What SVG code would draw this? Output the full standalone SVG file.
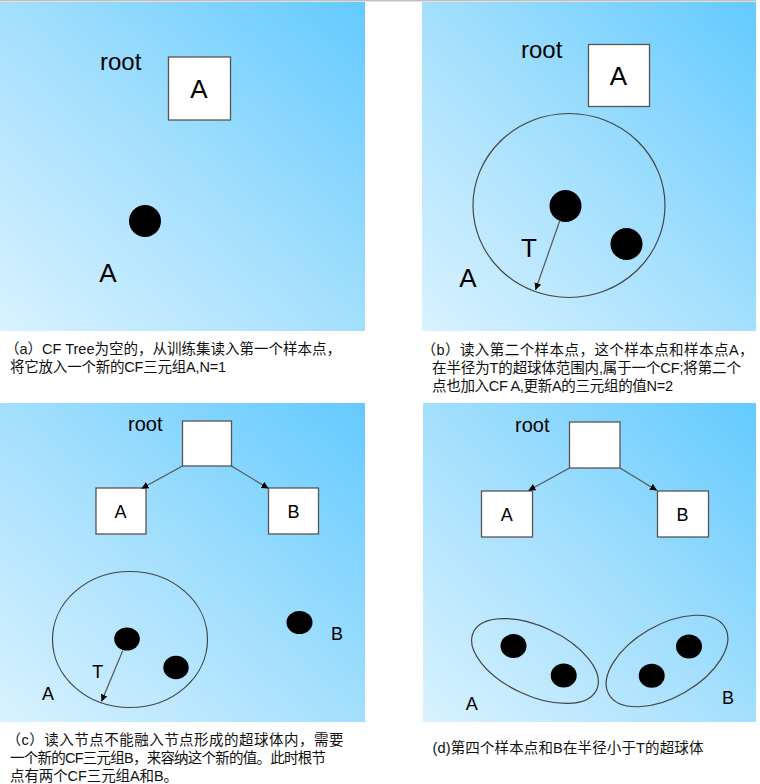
<svg xmlns="http://www.w3.org/2000/svg" width="760" height="784" viewBox="0 0 760 784">
<defs>
<linearGradient id="bg" x1="0" y1="1" x2="1" y2="0">
<stop offset="0" stop-color="#d9f2ff"/>
<stop offset="0.5" stop-color="#a3dffd"/>
<stop offset="1" stop-color="#63caff"/>
</linearGradient>
<marker id="arr" viewBox="0 0 10 10" refX="10" refY="5" markerWidth="7" markerHeight="7" markerUnits="userSpaceOnUse" orient="auto">
<path d="M0,0 L10,5 L0,10 Z" fill="#000"/>
</marker>
<style>
.panel{fill:url(#bg)}
.box{fill:#fff;stroke:#555;stroke-width:1.3}
.ring{fill:none;stroke:#444;stroke-width:1.2}
.dot{fill:#000}
.lb{font-family:"Liberation Sans",Arial,sans-serif;fill:#000}
.big{font-size:26px}
.rt1{font-size:24px}
.sm{font-size:18px}
.rt2{font-size:20px}
.cap{font-family:"Liberation Sans","Noto Sans CJK SC","Microsoft YaHei",sans-serif;font-size:14.5px;fill:#111}
.link{stroke:#555;stroke-width:1.2;fill:none;marker-end:url(#arr)}
</style>
</defs>
<rect x="0" y="0" width="760" height="784" fill="#fff"/>
<rect x="0" y="0" width="756" height="1.5" fill="#c0c0c0"/>

<!-- panel a -->
<g id="panel-a">
<rect class="panel" x="0" y="2" width="365" height="329"/>
<text class="lb rt1" x="100" y="70">root</text>
<g id="a-nodeA"><rect class="box" x="168.5" y="57" width="62" height="63"/><text class="lb big" x="199" y="98" text-anchor="middle">A</text></g>
<circle class="dot" cx="145" cy="221" r="16"/>
<text class="lb big" x="108" y="282" text-anchor="middle">A</text>
</g>

<!-- panel b -->
<g id="panel-b">
<rect class="panel" x="422" y="2" width="334" height="329"/>
<text class="lb rt1" x="521" y="58">root</text>
<g id="b-nodeA"><rect class="box" x="588.5" y="44.5" width="61" height="62"/><text class="lb big" x="618.5" y="85" text-anchor="middle">A</text></g>
<ellipse class="ring" cx="569" cy="205.5" rx="96" ry="92"/>
<circle class="dot" cx="565.5" cy="206" r="16"/>
<circle class="dot" cx="626.5" cy="244" r="16"/>
<text class="lb big" x="529" y="257" text-anchor="middle">T</text>
<text class="lb big" x="468" y="287" text-anchor="middle">A</text>
</g>

<!-- panel c -->
<g id="panel-c">
<rect class="panel" x="0" y="403" width="365" height="319"/>
<text class="lb rt2" x="128" y="431">root</text>
<g id="c-root"><rect class="box" x="182.5" y="421" width="49" height="45"/></g>
<g id="c-nodeA"><rect class="box" x="96" y="488" width="50" height="46"/><text class="lb sm" x="120.5" y="517.5" text-anchor="middle">A</text></g>
<g id="c-nodeB"><rect class="box" x="268.5" y="488" width="50" height="46"/><text class="lb sm" x="293.5" y="517.5" text-anchor="middle">B</text></g>
<ellipse class="ring" cx="130" cy="639.5" rx="77.5" ry="68"/>
<ellipse class="dot" cx="127" cy="639" rx="12.8" ry="11.5"/>
<ellipse class="dot" cx="176" cy="667.5" rx="12.7" ry="11.8"/>
<ellipse class="dot" cx="299.5" cy="622.5" rx="13" ry="11.5"/>
<text class="lb sm" x="337" y="640" text-anchor="middle">B</text>
<text class="lb sm" x="97.7" y="677.5" text-anchor="middle">T</text>
<text class="lb sm" x="48" y="700" text-anchor="middle">A</text>
</g>

<!-- panel d -->
<g id="panel-d">
<rect class="panel" x="423" y="403" width="333" height="319"/>
<text class="lb rt2" x="515" y="432">root</text>
<g id="d-root"><rect class="box" x="569.5" y="422" width="50.5" height="46"/></g>
<g id="d-nodeA"><rect class="box" x="481.5" y="491" width="51" height="46"/><text class="lb sm" x="506.7" y="520.7" text-anchor="middle">A</text></g>
<g id="d-nodeB"><rect class="box" x="657.5" y="491" width="51" height="46"/><text class="lb sm" x="682.5" y="520.7" text-anchor="middle">B</text></g>
<ellipse class="ring" cx="535" cy="661" rx="68" ry="34.5" transform="rotate(25 535 661)"/>
<ellipse class="ring" cx="667" cy="661" rx="67" ry="36" transform="rotate(-30 667 661)"/>
<ellipse class="dot" cx="513.5" cy="646" rx="13" ry="12"/>
<ellipse class="dot" cx="563.7" cy="675.5" rx="13" ry="12"/>
<ellipse class="dot" cx="689" cy="646.5" rx="13" ry="12"/>
<ellipse class="dot" cx="651.7" cy="675.7" rx="13" ry="12"/>
<text class="lb sm" x="471.7" y="709.5" text-anchor="middle">A</text>
<text class="lb sm" x="728" y="703.5" text-anchor="middle">B</text>
</g>

<!-- connectors -->
<g id="connectors">
<line class="link" x1="560" y1="220" x2="535.5" y2="290"/>
<line class="link" x1="182.5" y1="466" x2="141.5" y2="488.5"/>
<line class="link" x1="231.5" y1="466" x2="268.5" y2="488.5"/>
<line class="link" x1="122.7" y1="650.7" x2="101.5" y2="701.5"/>
<line class="link" x1="569.5" y1="468" x2="528.5" y2="490.5"/>
<line class="link" x1="620" y1="468" x2="657" y2="490.5"/>
</g>

<!-- captions -->
<g id="captions">
<text class="cap" x="5" y="354" textLength="336" lengthAdjust="spacing">（a）CF Tree为空的，从训练集读入第一个样本点，</text>
<text class="cap" x="10" y="372" textLength="216" lengthAdjust="spacing">将它放入一个新的CF三元组A,N=1</text>
<text class="cap" x="421.5" y="355" textLength="332" lengthAdjust="spacing">（b）读入第二个样本点，这个样本点和样本点A，</text>
<text class="cap" x="432" y="373" textLength="309" lengthAdjust="spacing">在半径为T的超球体范围内,属于一个CF;将第二个</text>
<text class="cap" x="432" y="390.5" textLength="241" lengthAdjust="spacing">点也加入CF A,更新A的三元组的值N=2</text>
<text class="cap" x="6.5" y="745" textLength="337" lengthAdjust="spacing">（c）读入节点不能融入节点形成的超球体内，需要</text>
<text class="cap" x="10" y="763" textLength="316" lengthAdjust="spacing">一个新的CF三元组B，来容纳这个新的值。此时根节</text>
<text class="cap" x="10" y="780.5" textLength="168" lengthAdjust="spacing">点有两个CF三元组A和B。</text>
<text class="cap" x="432.5" y="753" textLength="271" lengthAdjust="spacing">(d)第四个样本点和B在半径小于T的超球体</text>
</g>
</svg>
